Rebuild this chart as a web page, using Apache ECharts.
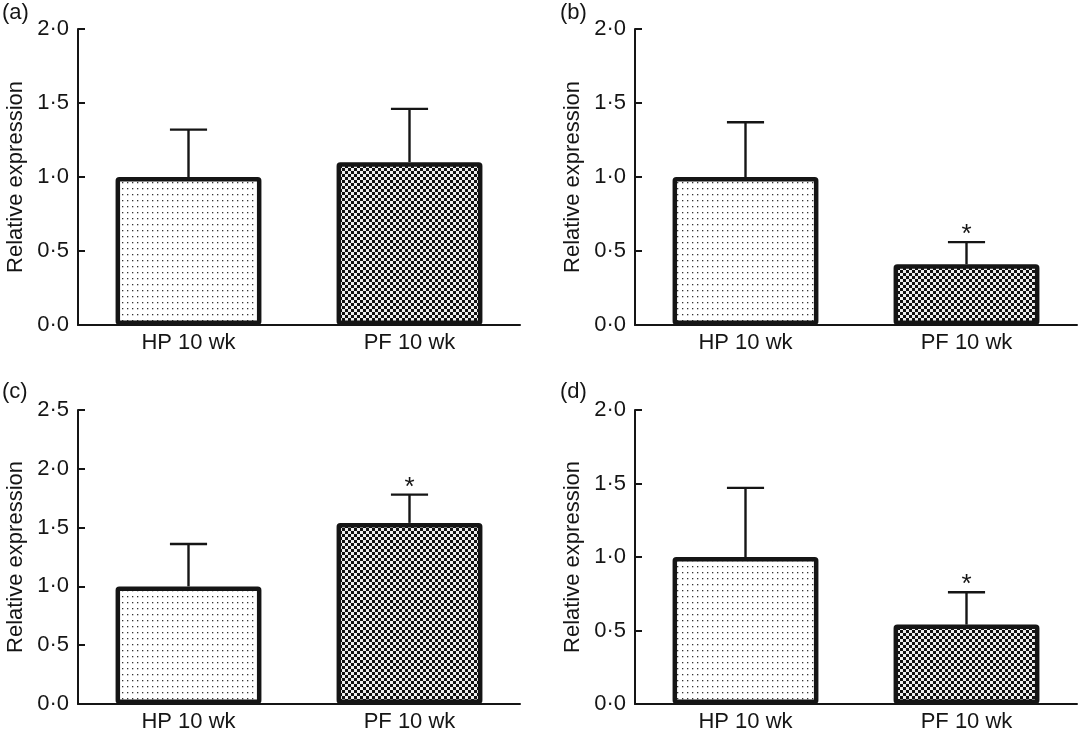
<!DOCTYPE html>
<html>
<head>
<meta charset="utf-8">
<script src="https://cdn.jsdelivr.net/npm/echarts@6/dist/echarts.min.js"></script>
<style>
html,body{margin:0;padding:0;background:#fff;}
#chart{width:1079px;height:736px;}
</style>
</head>
<body>
<div id="chart"></div>
<script>
// ---- data ----
const categories = ['HP 10 wk', 'PF 10 wk'];
const panelLabels = ['(a)', '(b)', '(c)', '(d)'];
const yAxisName = 'Relative expression';
const yMax = [2.0, 2.0, 2.5, 2.0];
const yInterval = 0.5;

const aMean = [1.00, 1.10];
const aSE   = [0.32, 0.36];
const aSig  = [0, 0];

const bMean = [1.00, 0.41];
const bSE   = [0.37, 0.15];
const bSig  = [0, 1];

const cMean = [1.00, 1.54];
const cSE   = [0.36, 0.24];
const cSig  = [0, 1];

const dMean = [1.00, 0.54];
const dSE   = [0.47, 0.22];
const dSig  = [0, 1];

const means = [aMean, bMean, cMean, dMean];
const ses = [aSE, bSE, cSE, dSE];
const sigs = [aSig, bSig, cSig, dSig];

// ---- styling ----
const INK = '#151515';
const FONT = '"Liberation Sans", Arial, Helvetica, sans-serif';
const FS = 22;

function makePattern(kind) {
  const c = document.createElement('canvas');
  if (kind === 'dots') {
    c.width = 5; c.height = 6;
    const g = c.getContext('2d');
    g.fillStyle = '#fff'; g.fillRect(0, 0, 5, 6);
    g.fillStyle = '#333'; g.fillRect(2, 2, 1.3, 1.3);
  } else {
    c.width = 6; c.height = 6;
    const g = c.getContext('2d');
    g.fillStyle = '#eeeeee'; g.fillRect(0, 0, 6, 6);
    g.fillStyle = '#111'; g.fillRect(0, 0, 3, 3); g.fillRect(3, 3, 3, 3);
  }
  return { image: c, repetition: 'repeat' };
}
const patterns = [makePattern('dots'), makePattern('checks')];

const grids = [
  { left: 78, top: 29, width: 442, height: 296 },
  { left: 635, top: 29, width: 442, height: 296 },
  { left: 78, top: 410, width: 442, height: 294 },
  { left: 635, top: 410, width: 442, height: 294 }
];
const labelPos = [[2, 2], [560, 2], [2, 381], [560, 381]];

const fmt = v => v.toFixed(1).replace('.', '\u00B7');

const xAxes = [], yAxes = [], series = [], graphics = [];
for (let i = 0; i < 4; i++) {
  xAxes.push({
    type: 'category', gridIndex: i, data: categories,
    axisLine: { lineStyle: { color: INK, width: 2 } },
    axisTick: { inside: true, length: 7, lineStyle: { color: INK, width: 2 } },
    axisLabel: { color: INK, fontSize: FS, fontFamily: FONT, margin: 7 }
  });
  yAxes.push({
    type: 'value', gridIndex: i, min: 0, max: yMax[i], interval: yInterval,
    name: yAxisName, nameLocation: 'middle', nameGap: 51,
    nameTextStyle: { color: INK, fontSize: FS, fontFamily: FONT },
    axisLine: { show: true, lineStyle: { color: INK, width: 2 } },
    axisTick: { show: true, inside: true, length: 7, lineStyle: { color: INK, width: 2 } },
    axisLabel: { color: INK, fontSize: FS, fontFamily: FONT, margin: 9, formatter: fmt },
    splitLine: { show: false }
  });
  series.push({
    type: 'bar', xAxisIndex: i, yAxisIndex: i,
    barCategoryGap: '34%',
    data: means[i].map((v, k) => ({ value: v, itemStyle: { color: patterns[k] } })),
    itemStyle: { borderColor: INK, borderWidth: 4.5, borderRadius: 1.5 },
    emphasis: { disabled: true },
    z: 2
  });
  series.push({
    type: 'custom', xAxisIndex: i, yAxisIndex: i,
    data: means[i].map((v, k) => [k, v, v + ses[i][k], sigs[i][k]]),
    encode: { x: 0, y: [1, 2] },
    z: 3,
    renderItem: function (params, api) {
      const x = api.value(0), m = api.value(1), u = api.value(2), s = api.value(3);
      const p0 = api.coord([x, m]), p1 = api.coord([x, u]);
      const hw = api.size([1, 0])[0] * 0.084;
      const st = { stroke: INK, lineWidth: 2.4 };
      const ch = [
        { type: 'line', shape: { x1: p0[0], y1: p0[1], x2: p1[0], y2: p1[1] }, style: st },
        { type: 'line', shape: { x1: p1[0] - hw, y1: p1[1], x2: p1[0] + hw, y2: p1[1] }, style: st }
      ];
      if (s) {
        ch.push({ type: 'text', x: p1[0], y: p1[1] - 7,
          style: { text: '*', fill: INK, font: '26px ' + FONT, align: 'center', verticalAlign: 'middle' } });
      }
      return { type: 'group', children: ch };
    }
  });
  graphics.push({
    type: 'text', left: labelPos[i][0], top: labelPos[i][1],
    style: { text: panelLabels[i], fill: INK, font: FS + 'px ' + FONT }
  });
}

const chart = echarts.init(document.getElementById('chart'), null, { renderer: 'canvas' });
chart.setOption({
  animation: false,
  backgroundColor: '#fff',
  grid: grids,
  xAxis: xAxes,
  yAxis: yAxes,
  series: series,
  graphic: graphics
});
</script>
</body>
</html>
